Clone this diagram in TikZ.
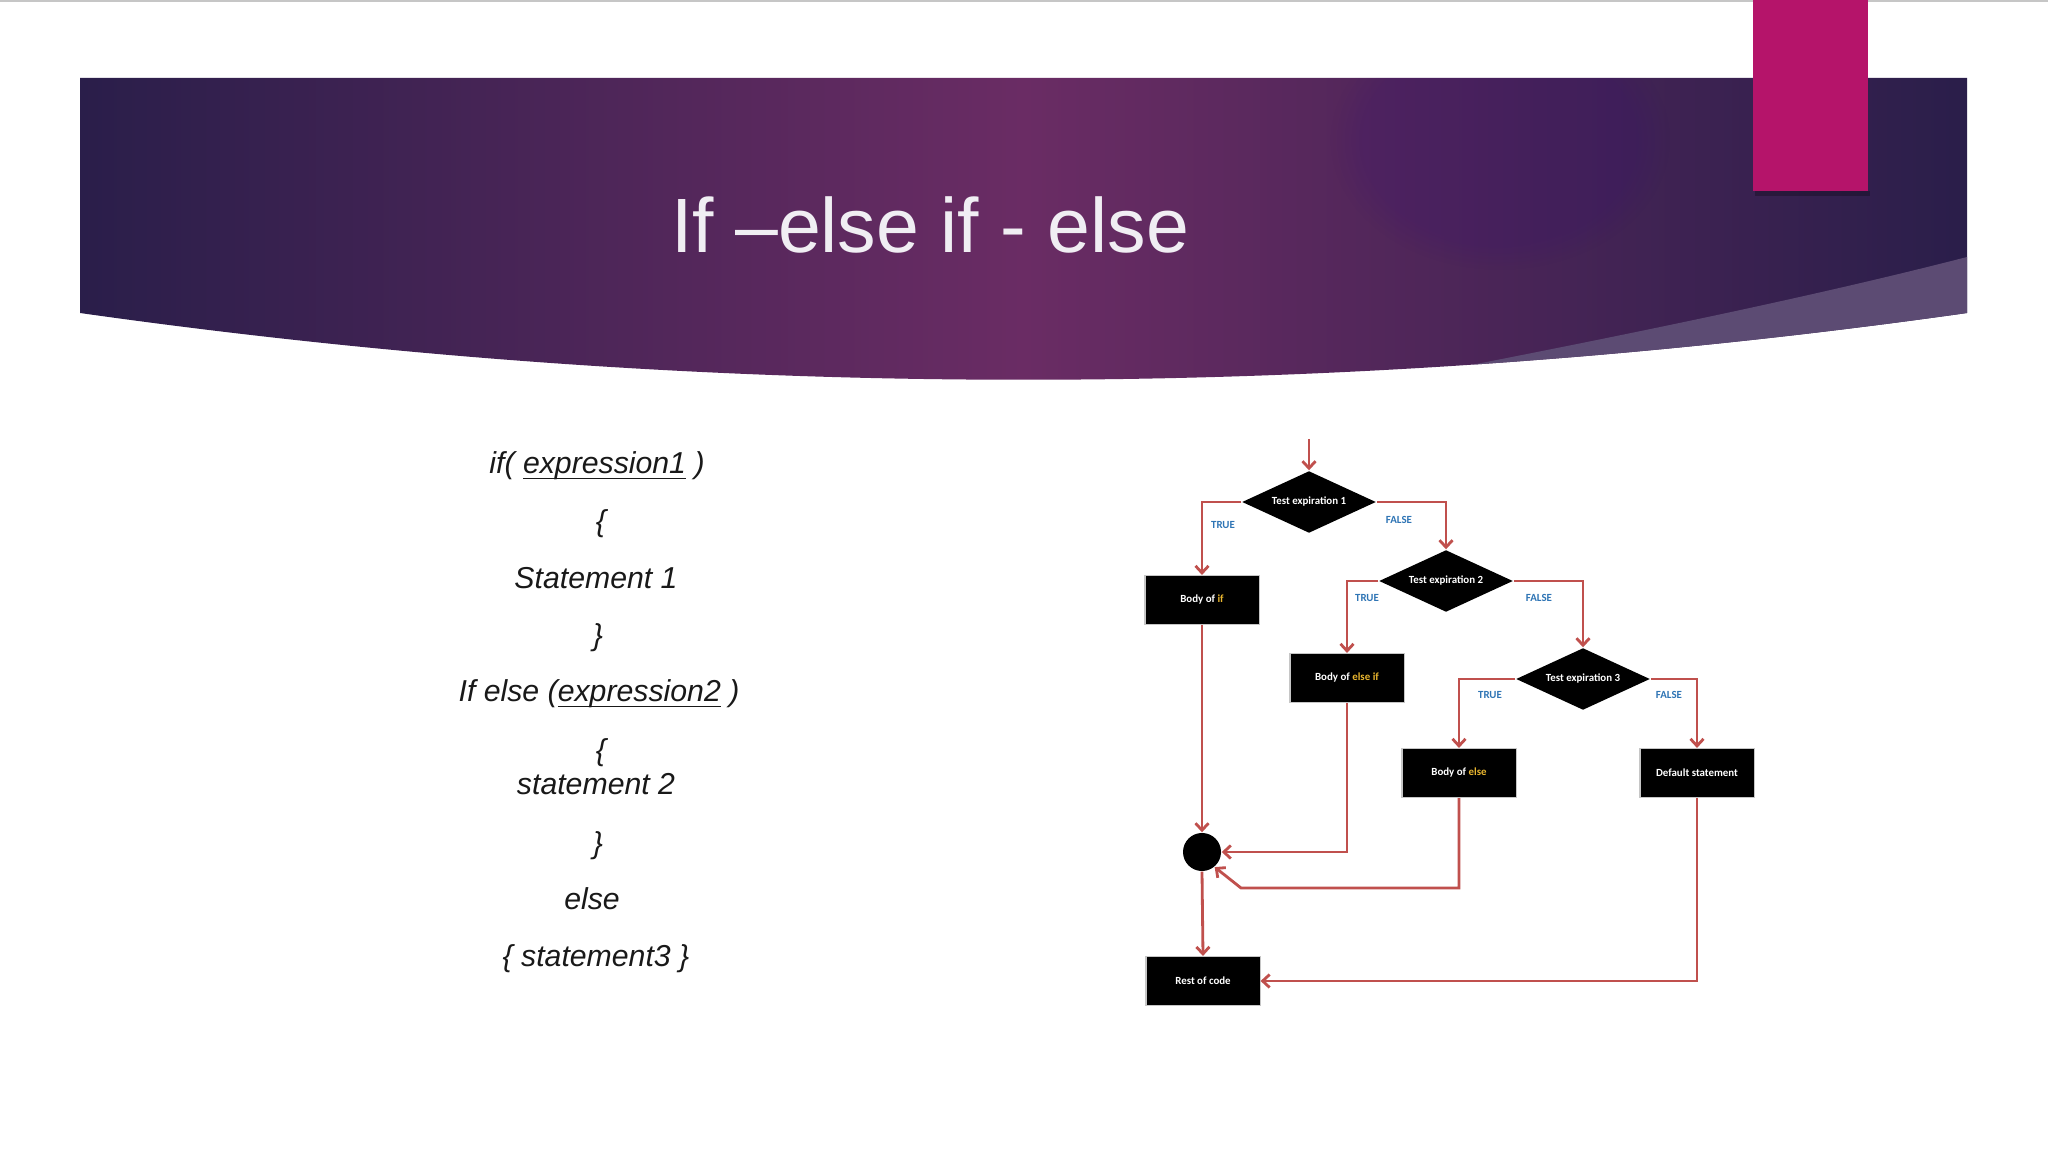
\documentclass[tikz,border=0pt]{standalone}
\usepackage{fontspec}
\setmainfont{Liberation Sans}
\newfontfamily\boxfont{Carlito}
\usetikzlibrary{shapes.geometric, arrows.meta, fadings}
\definecolor{bannerdark}{HTML}{2A1E4A}
\definecolor{bannermid}{HTML}{6A2C64}
\definecolor{swoosh}{HTML}{5C4B73}
\definecolor{magbar}{HTML}{B5146A}
\definecolor{flowred}{HTML}{C0504D}
\definecolor{flowblue}{HTML}{2F75B5}
\definecolor{kwgold}{HTML}{E9B62F}
\definecolor{titlegray}{HTML}{F0EEF3}
\newcommand{\exprul}[1]{\underline{\smash{#1}}}
\begin{document}
\begin{tikzpicture}[
    x=0.01cm, y=-0.01cm,
    box/.style={rectangle, fill=black, draw=gray!45, line width=0.3pt, minimum width=1.14cm, minimum height=0.49cm, inner sep=0pt, text=white, font=\boxfont\fontsize{3.1}{3.7}\selectfont\bfseries},
    decision/.style={diamond, aspect=2.16, fill=black, minimum width=1.34cm, minimum height=0.62cm, inner sep=0pt, text=white, font=\boxfont\fontsize{3.1}{3.7}\selectfont\bfseries},
    flow/.style={draw=flowred, line width=0.8pt, -{Straight Barb[length=0.07cm, width=0.13cm]}},
    tf/.style={text=flowblue, font=\boxfont\fontsize{3.1}{3.7}\selectfont\bfseries},
    code/.style={text=black!90, font=\fontsize{8.6}{10}\selectfont\itshape, text height=0.75em, text depth=0.22em}
  ]
  \useasboundingbox (0,0) rectangle (2048,1152);
  \fill[white] (0,0) rectangle (2048,1152);
  \draw[gray!45, line width=0.02cm] (0,1) -- (2048,1);

  % title banner
  \shade[left color=bannerdark, right color=bannerdark, middle color=bannermid]
    (80,78) -- (1967,78) -- (1967,313) .. controls (1338,402) and (709,402) .. (80,313) -- cycle;
  \begin{scope}
    \clip (80,78) -- (1967,78) -- (1967,313) .. controls (1338,402) and (709,402) .. (80,313) -- cycle;
    \fill[violet!50!blue!70!black, opacity=0.12, path fading=circle with fuzzy edge 20 percent] (1500,140) ellipse [x radius=1.7cm, y radius=1.3cm];
    \fill[swoosh] (1967,257) .. controls (1800,300) and (1600,340) .. (1420,375) -- (1420,430) -- (1990,430) -- cycle;
  \end{scope}
  \fill[black, opacity=0.25] (1755,191) rectangle (1870,196);
  \fill[magbar] (1753,0) rectangle (1868,191);
  \node[text=titlegray, font=\fontsize{21.9}{26}\selectfont] (title) at (930,225) {If –else if - else};

  % syntax
  \node[code] (c1) at (597,464) {if( \exprul{expression1} )};
  \node[code] (c2) at (601,522) {\{};
  \node[code] (c3) at (596,579) {Statement 1};
  \node[code] (c4) at (598,636) {\}};
  \node[code] (c5) at (599,692) {If else (\exprul{expression2} )};
  \node[code] (c6) at (601,751) {\{};
  \node[code] (c7) at (596,785) {statement 2};
  \node[code] (c8) at (598,844) {\}};
  \node[code] (c9) at (592,900) {else};
  \node[code] (c10) at (596,957) {\{ statement3 \}};

  % flowchart
  \coordinate (entry) at (1309,439);
  \node[decision] (test1) at (1309,502) {Test expiration 1};
  \node[box] (bodyif) at (1202,600) {Body of \textcolor{kwgold}{if}};
  \node[decision] (test2) at (1446,581) {Test expiration 2};
  \node[box] (bodyelseif) at (1347,678) {Body of \textcolor{kwgold}{else if}};
  \node[decision] (test3) at (1583,679) {Test expiration 3};
  \node[box] (bodyelse) at (1459,773) {Body of \textcolor{kwgold}{else}};
  \node[box] (defaultstmt) at (1697,773) {Default statement};
  \node[circle, fill=black, minimum size=0.38cm, inner sep=0pt] (join) at (1202,852) {};
  \node[box] (rest) at (1203,981) {Rest of code};

  \node[tf] (t1) at (1223,525) {TRUE};
  \node[tf] (f1) at (1399,520) {FALSE};
  \node[tf] (t2) at (1367,598) {TRUE};
  \node[tf] (f2) at (1539,598) {FALSE};
  \node[tf] (t3) at (1490,695) {TRUE};
  \node[tf] (f3) at (1669,695) {FALSE};

  \draw[flow] (entry) -- (test1.north);
  \draw[flow] (test1.west) -| (bodyif.north);
  \draw[flow] (test1.east) -| (test2.north);
  \draw[flow] (test2.west) -| (bodyelseif.north);
  \draw[flow] (test2.east) -| (test3.north);
  \draw[flow] (test3.west) -| (bodyelse.north);
  \draw[flow] (test3.east) -| (defaultstmt.north);
  \draw[flow] (bodyif.south) -- (join.north);
  \draw[flow] (bodyelseif.south) |- (join.east);
  \coordinate (elsebend) at (1241,888);
  \draw[flow] (bodyelse.south) |- (elsebend) -- (join.-50);
  \draw[flow] (join.south) -- (rest.north);
  \draw[flow] (defaultstmt.south) |- (rest.east);
\end{tikzpicture}
\end{document}
